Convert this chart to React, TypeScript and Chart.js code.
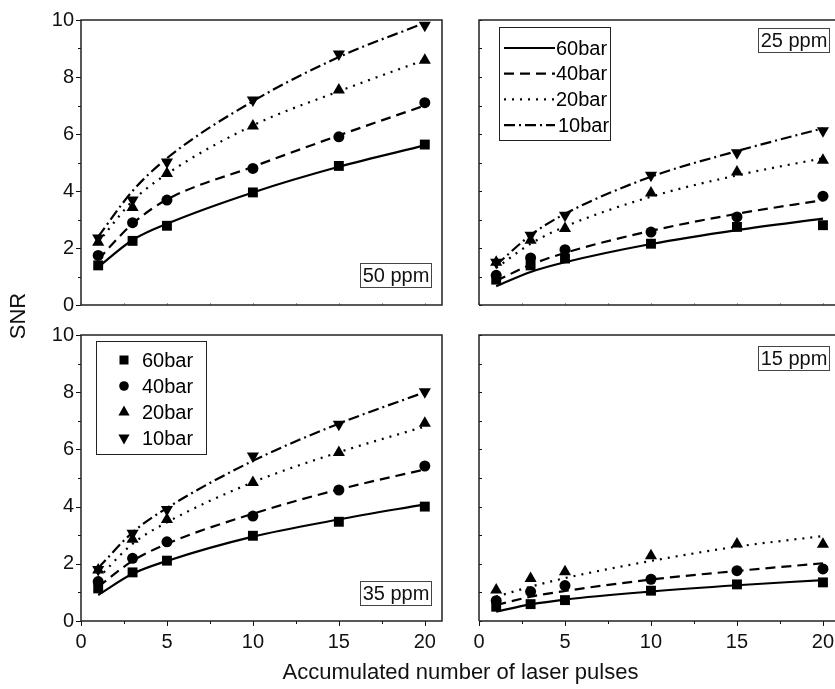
import React, { useEffect, useRef } from 'react';
import { Chart, registerables } from 'chart.js';

Chart.register(...registerables);

// ---------- data ----------
const pulses = [1, 3, 5, 10, 15, 20];
const seriesNames = ['60bar', '40bar', '20bar', '10bar'];
const xTickValues = [0, 5, 10, 15, 20];
const xMinorTicks = [2.5, 7.5, 12.5, 17.5];
const yTickValues = [0, 2, 4, 6, 8, 10];
const yMinorTicks = [1, 3, 5, 7, 9];
const xTitle = 'Accumulated number of laser pulses';
const yTitle = 'SNR';

// 50 ppm: measured points
const m50_60bar = [1.39, 2.25, 2.78, 3.95, 4.88, 5.63];
const m50_40bar = [1.74, 2.89, 3.68, 4.79, 5.9, 7.1];
const m50_20bar = [2.2, 3.42, 4.61, 6.28, 7.54, 8.59];
const m50_10bar = [2.35, 3.68, 5.02, 7.19, 8.81, 9.82];
// 50 ppm: fitted curves
const f50_60bar = [1.33, 2.28, 2.85, 3.95, 4.85, 5.6];
const f50_40bar = [1.6, 2.85, 3.7, 4.85, 5.95, 7.0];
const f50_20bar = [2.2, 3.65, 4.6, 6.3, 7.5, 8.6];
const f50_10bar = [2.4, 4.0, 5.15, 7.15, 8.7, 9.9];

// 25 ppm
const m25_60bar = [0.89, 1.39, 1.63, 2.15, 2.74, 2.8];
const m25_40bar = [1.04, 1.65, 1.94, 2.56, 3.09, 3.82];
const m25_20bar = [1.5, 2.27, 2.68, 3.93, 4.67, 5.08];
const m25_10bar = [1.5, 2.45, 3.15, 4.55, 5.34, 6.11];
const f25_60bar = [0.66, 1.16, 1.5, 2.14, 2.63, 3.03];
const f25_40bar = [0.85, 1.41, 1.83, 2.6, 3.2, 3.68];
const f25_20bar = [1.3, 2.15, 2.75, 3.8, 4.55, 5.15];
const f25_10bar = [1.4, 2.45, 3.2, 4.5, 5.4, 6.2];

// 35 ppm
const m35_60bar = [1.14, 1.7, 2.11, 2.98, 3.47, 4.0];
const m35_40bar = [1.38, 2.19, 2.77, 3.67, 4.58, 5.42];
const m35_20bar = [1.78, 2.86, 3.55, 4.84, 5.89, 6.91];
const m35_10bar = [1.8, 3.07, 3.9, 5.77, 6.88, 8.02];
const f35_60bar = [0.91, 1.65, 2.1, 2.95, 3.55, 4.08];
const f35_40bar = [1.2, 2.1, 2.7, 3.75, 4.6, 5.3];
const f35_20bar = [1.5, 2.7, 3.45, 4.85, 5.9, 6.8];
const f35_10bar = [1.85, 3.1, 3.95, 5.6, 6.9, 8.0];

// 15 ppm
const m15_60bar = [0.5, 0.59, 0.73, 1.06, 1.28, 1.35];
const m15_40bar = [0.71, 1.03, 1.24, 1.46, 1.76, 1.82];
const m15_20bar = [1.08, 1.49, 1.72, 2.28, 2.69, 2.68];
const f15_60bar = [0.33, 0.58, 0.75, 1.03, 1.25, 1.43];
const f15_40bar = [0.56, 0.85, 1.05, 1.45, 1.75, 2.02];
const f15_20bar = [0.85, 1.2, 1.5, 2.1, 2.6, 2.97];

// ---------- styles ----------
const FONT = '"Liberation Sans", Arial, Helvetica, sans-serif';
const pointStyles: any[] = ['rect', 'circle', 'triangle', 'triangle'];
const pointRotations = [0, 0, 0, 180];
const pointRadii = [7, 5.5, 7, 7];
const dashes: number[][] = [[], [10, 6], [2, 6], [11, 4, 2, 4]];

type Panel = {
  key: string;
  label: string;
  markers: number[][];
  fits: number[][];
  left: number;
  top: number;
  width: number;
  height: number;
  yAxisWidth: number;
  xAxisHeight: number;
  padTop: number;
  padRight: number;
  xMax: number;
  rightBorder: boolean;
  showY: boolean;
  showX: boolean;
  legend: 'lines' | 'markers' | null;
  labelBox: { dx: number; dy: number; fromTop: boolean };
};

const panels: Panel[] = [
  {
    key: 'p50', label: '50 ppm',
    markers: [m50_60bar, m50_40bar, m50_20bar, m50_10bar],
    fits: [f50_60bar, f50_40bar, f50_20bar, f50_10bar],
    left: 0, top: 0, width: 450, height: 320,
    yAxisWidth: 81, xAxisHeight: 15, padTop: 20, padRight: 8, xMax: 21, rightBorder: true,
    showY: true, showX: false, legend: null,
    labelBox: { dx: 11, dy: 18, fromTop: false },
  },
  {
    key: 'p25', label: '25 ppm',
    markers: [m25_60bar, m25_40bar, m25_20bar, m25_10bar],
    fits: [f25_60bar, f25_40bar, f25_20bar, f25_10bar],
    left: 450, top: 0, width: 385, height: 320,
    yAxisWidth: 29, xAxisHeight: 15, padTop: 20, padRight: 0, xMax: 20.7, rightBorder: false,
    showY: false, showX: false, legend: 'lines',
    labelBox: { dx: 6, dy: 8, fromTop: true },
  },
  {
    key: 'p35', label: '35 ppm',
    markers: [m35_60bar, m35_40bar, m35_20bar, m35_10bar],
    fits: [f35_60bar, f35_40bar, f35_20bar, f35_10bar],
    left: 0, top: 320, width: 450, height: 369,
    yAxisWidth: 81, xAxisHeight: 68, padTop: 15, padRight: 8, xMax: 21, rightBorder: true,
    showY: true, showX: true, legend: 'markers',
    labelBox: { dx: 11, dy: 16, fromTop: false },
  },
  {
    key: 'p15', label: '15 ppm',
    markers: [m15_60bar, m15_40bar, m15_20bar],
    fits: [f15_60bar, f15_40bar, f15_20bar],
    left: 450, top: 320, width: 385, height: 369,
    yAxisWidth: 29, xAxisHeight: 68, padTop: 15, padRight: 0, xMax: 20.7, rightBorder: false,
    showY: false, showX: true, legend: null,
    labelBox: { dx: 6, dy: 11, fromTop: true },
  },
];

function drawMarker(ctx: CanvasRenderingContext2D, style: number, x: number, y: number) {
  ctx.beginPath();
  if (style === 0) {
    ctx.rect(x - 4.5, y - 4.5, 9, 9);
  } else if (style === 1) {
    ctx.arc(x, y, 4.8, 0, Math.PI * 2);
  } else if (style === 2) {
    ctx.moveTo(x, y - 6.5);
    ctx.lineTo(x + 5.6, y + 3.5);
    ctx.lineTo(x - 5.6, y + 3.5);
    ctx.closePath();
  } else {
    ctx.moveTo(x, y + 6.5);
    ctx.lineTo(x + 5.6, y - 3.5);
    ctx.lineTo(x - 5.6, y - 3.5);
    ctx.closePath();
  }
  ctx.fill();
}

function panelPlugin(p: Panel) {
  return {
    id: 'decor_' + p.key,
    afterDraw(chart: any) {
      const ctx: CanvasRenderingContext2D = chart.ctx;
      const a = chart.chartArea;
      const xs = chart.scales.x;
      const ys = chart.scales.y;
      ctx.save();
      ctx.strokeStyle = '#111';
      ctx.lineWidth = 1;
      ctx.setLineDash([]);
      // y ticks
      const yAll = [...yTickValues.map((v) => [v, 1]), ...yMinorTicks.map((v) => [v, 0])];
      for (const [v, major] of yAll) {
        const y = Math.round(ys.getPixelForValue(v)) + 0.5;
        ctx.beginPath();
        if (p.showY) {
          const len = major ? 5 : 3;
          ctx.moveTo(a.left, y);
          ctx.lineTo(a.left - len, y);
        } else {
          ctx.moveTo(a.left, y);
          ctx.lineTo(a.left + 3, y);
        }
        ctx.stroke();
      }
      // x ticks
      const xAll = [...xTickValues.map((v) => [v, 1]), ...xMinorTicks.map((v) => [v, 0])];
      for (const [v, major] of xAll) {
        const x = Math.round(xs.getPixelForValue(v)) + 0.5;
        ctx.beginPath();
        if (p.showX) {
          ctx.strokeStyle = '#111';
          const len = major ? 5 : 3;
          ctx.moveTo(x, a.bottom);
          ctx.lineTo(x, a.bottom + len);
        } else {
          ctx.strokeStyle = '#999';
          ctx.moveTo(x, a.bottom);
          ctx.lineTo(x, a.bottom - 2);
        }
        ctx.stroke();
      }
      // frame
      ctx.strokeStyle = '#222';
      ctx.lineWidth = 1.5;
      ctx.beginPath();
      ctx.moveTo(a.left, a.bottom);
      ctx.lineTo(a.left, a.top);
      ctx.lineTo(a.right, a.top);
      if (p.rightBorder) {
        ctx.lineTo(a.right, a.bottom);
      } else {
        ctx.moveTo(a.right, a.bottom);
      }
      ctx.lineTo(a.left, a.bottom);
      ctx.stroke();

      // concentration label box
      ctx.font = '20px ' + FONT;
      const bw = 71;
      const bh = 24;
      const bx = a.right - p.labelBox.dx - bw;
      const by = p.labelBox.fromTop ? a.top + p.labelBox.dy : a.bottom - p.labelBox.dy - bh;
      ctx.fillStyle = '#fff';
      ctx.fillRect(bx, by, bw, bh);
      ctx.strokeStyle = '#444';
      ctx.lineWidth = 1;
      ctx.strokeRect(bx + 0.5, by + 0.5, bw, bh);
      ctx.fillStyle = '#111';
      ctx.textAlign = 'center';
      ctx.textBaseline = 'middle';
      ctx.fillText(p.label, bx + bw / 2 + 0.5, by + bh / 2 + 1.5);

      // legends
      if (p.legend === 'lines') {
        const lx = a.left + 20;
        const ly = a.top + 7;
        ctx.strokeStyle = '#222';
        ctx.lineWidth = 1;
        ctx.strokeRect(lx + 0.5, ly + 0.5, 111, 113);
        seriesNames.forEach((name, i) => {
          const y = a.top + 28 + i * 25.7;
          ctx.strokeStyle = '#000';
          ctx.lineWidth = 2.2;
          ctx.setLineDash(dashes[i]);
          ctx.beginPath();
          ctx.moveTo(a.left + 25, y);
          ctx.lineTo(a.left + 76, y);
          ctx.stroke();
          ctx.setLineDash([]);
          ctx.fillStyle = '#000';
          ctx.textAlign = 'left';
          ctx.textBaseline = 'middle';
          ctx.fillText(name, a.left + (i === 3 ? 79 : 77), y + 1);
        });
      } else if (p.legend === 'markers') {
        const lx = a.left + 15;
        const ly = a.top + 6;
        ctx.strokeStyle = '#222';
        ctx.lineWidth = 1;
        ctx.strokeRect(lx + 0.5, ly + 0.5, 110, 113);
        seriesNames.forEach((name, i) => {
          const y = a.top + 25 + i * 26;
          ctx.fillStyle = '#000';
          drawMarker(ctx, i, a.left + 43, y);
          ctx.textAlign = 'left';
          ctx.textBaseline = 'middle';
          ctx.fillText(name, a.left + 61, y + 1);
        });
      }
      ctx.restore();
    },
  };
}

function PanelChart({ p }: { p: Panel }) {
  const ref = useRef<HTMLCanvasElement | null>(null);
  useEffect(() => {
    if (!ref.current) return;
    const datasets: any[] = [];
    p.fits.forEach((arr, i) => {
      datasets.push({
        label: seriesNames[i] + ' fit',
        data: pulses.map((x, k) => ({ x, y: arr[k] })),
        showLine: true,
        borderColor: '#000',
        borderWidth: 2.2,
        borderDash: dashes[i],
        pointRadius: 0,
        cubicInterpolationMode: 'monotone',
        fill: false,
        order: 2,
      });
    });
    p.markers.forEach((arr, i) => {
      datasets.push({
        label: seriesNames[i],
        data: pulses.map((x, k) => ({ x, y: arr[k] })),
        showLine: false,
        pointStyle: pointStyles[i],
        rotation: pointRotations[i],
        pointRadius: pointRadii[i],
        pointBackgroundColor: '#000',
        pointBorderColor: '#000',
        pointBorderWidth: 0,
        order: 1,
      });
    });
    const chart = new Chart(ref.current, {
      type: 'line',
      data: { datasets },
      options: {
        animation: false,
        responsive: false,
        devicePixelRatio: 1,
        layout: {
          autoPadding: false,
          padding: { left: 0, top: p.padTop, right: p.padRight, bottom: 0 },
        },
        plugins: { legend: { display: false }, tooltip: { enabled: false }, title: { display: false } },
        scales: {
          x: {
            type: 'linear',
            min: 0,
            max: p.xMax,
            grid: { display: false, drawTicks: false },
            border: { display: false },
            ticks: {
              display: p.showX,
              padding: 9,
              color: '#111',
              font: { family: FONT, size: 20 },
              autoSkip: false,
              maxRotation: 0,
            },
            afterBuildTicks: (s: any) => {
              s.ticks = xTickValues.map((v) => ({ value: v }));
            },
            afterFit: (s: any) => {
              s.height = p.xAxisHeight;
              s.paddingLeft = 0;
              s.paddingRight = 0;
            },
          },
          y: {
            type: 'linear',
            min: 0,
            max: 10,
            grid: { display: false, drawTicks: false },
            border: { display: false },
            ticks: {
              display: p.showY,
              padding: 7,
              color: '#111',
              font: { family: FONT, size: 20 },
              autoSkip: false,
            },
            afterBuildTicks: (s: any) => {
              s.ticks = yTickValues.map((v) => ({ value: v }));
            },
            afterFit: (s: any) => {
              s.width = p.yAxisWidth;
              s.paddingTop = 0;
              s.paddingBottom = 0;
            },
          },
        },
      } as any,
      plugins: [panelPlugin(p)],
    });
    return () => chart.destroy();
  }, [p]);
  return (
    <canvas
      ref={ref}
      width={p.width}
      height={p.height}
      style={{ position: 'absolute', left: p.left, top: p.top, width: p.width, height: p.height }}
    />
  );
}

export default function App() {
  return (
    <div
      style={{
        position: 'absolute',
        left: 0,
        top: 0,
        width: 835,
        height: 689,
        background: '#fff',
        overflow: 'hidden',
        fontFamily: FONT,
      }}
    >
      {panels.map((p) => (
        <PanelChart key={p.key} p={p} />
      ))}
      <div
        style={{
          position: 'absolute',
          left: -12,
          top: 304.5,
          width: 60,
          height: 22,
          lineHeight: '22px',
          fontSize: 22,
          textAlign: 'center',
          color: '#111',
          transform: 'rotate(-90deg)',
          whiteSpace: 'nowrap',
        }}
      >
        {yTitle}
      </div>
      <div
        style={{
          position: 'absolute',
          left: 260.5,
          top: 661.4,
          width: 400,
          height: 22,
          lineHeight: '22px',
          fontSize: 22,
          textAlign: 'center',
          color: '#111',
          whiteSpace: 'nowrap',
        }}
      >
        {xTitle}
      </div>
    </div>
  );
}
